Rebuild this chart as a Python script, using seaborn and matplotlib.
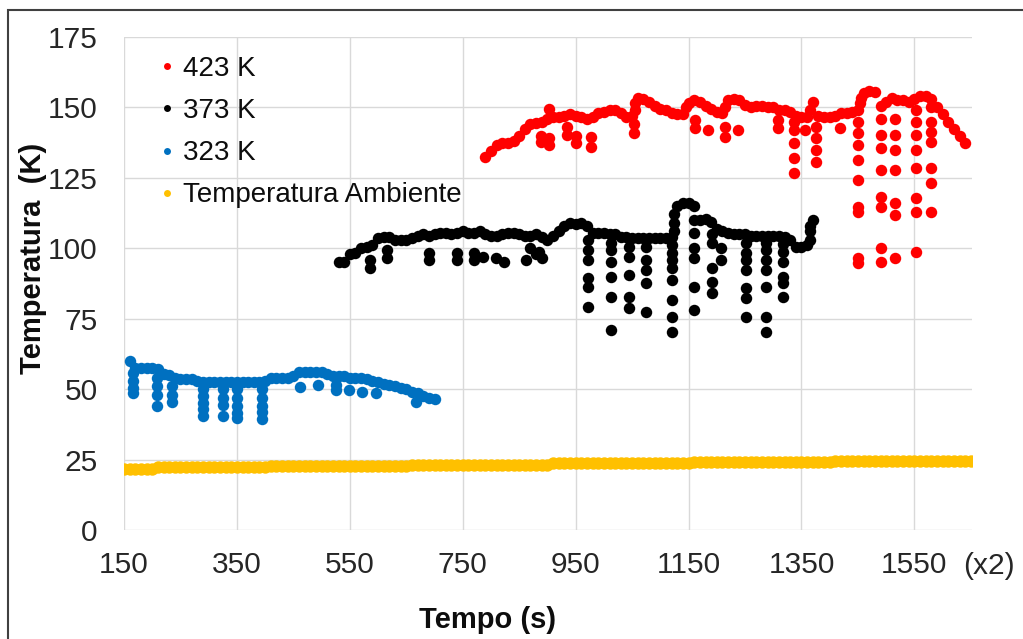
import numpy as np
import pandas as pd
import matplotlib
matplotlib.use("Agg")
import matplotlib.pyplot as plt
from matplotlib.lines import Line2D
from matplotlib.patches import Rectangle
import seaborn as sns

# ---------------- data ----------------
series_names = ["423 K", "373 K", "323 K", "Temperatura Ambiente"]
series_colors = ["#FF0000", "#000000", "#0070C0", "#FFC000"]
sample_step = 10

# 423 K: regular readings starting at t = 790
red_start = 790
red_values = [
    132.5, 134.5, 136.5, 137.5, 137.5, 138, 140, 142.5, 144, 144.5,
    145, 146, 146.5, 146.5, 147, 147.5, 147, 146.5, 146, 146.5,
    148, 148.5, 149, 149, 148, 146.5, 147, 153.5, 153, 152,
    150.5, 149.5, 149, 148, 147.5, 147.5, 151.5, 152.5, 152, 150.5,
    149.5, 148.5, 148, 152.5, 153, 152.5, 151, 150, 150.5, 150.5,
    150, 150, 149, 149, 148.5, 147, 146.5, 146.5, 152, 147,
    146.5, 146.5, 147, 148, 148, 148.5, 149, 155, 156, 155.5,
    150.5, 152, 153.5, 152.5, 152.5, 152, 153, 154, 154, 153,
    150, 147.5, 145, 142.5, 140, 137.5,
]
red_drops = [
    (903, 149.5), (889, 140), (889, 137.7), (903, 139), (903, 136.7),
    (934, 143), (934, 140.2), (950, 140), (950, 137.4), (977, 139.5),
    (977, 136), (1053, 144), (1053, 141), (1055, 149), (1055, 151.5),
    (1145, 150), (1162, 145.5), (1162, 142.7), (1185, 142), (1215, 150),
    (1215, 143), (1215, 139.5), (1238, 142), (1309, 145.5), (1309, 142.7),
    (1336, 145), (1336, 142), (1336, 137.4), (1336, 132), (1336, 126.7),
    (1357, 142), (1365, 149), (1376, 143), (1376, 139), (1376, 134.9),
    (1376, 130.6), (1419, 142.7),
    (1450, 145), (1450, 141), (1450, 136.7), (1450, 131.3), (1450, 124.2),
    (1450, 114.7), (1450, 112.9), (1450, 96.6), (1450, 94.8),
    (1453, 151.5), (1456, 153.5),
    (1491, 146), (1491, 140.2), (1491, 135.6), (1491, 127.8), (1491, 118.2),
    (1491, 114.7), (1491, 100.1), (1491, 95.1),
    (1516, 146), (1516, 140.2), (1516, 134.9), (1516, 127.8), (1516, 116.1),
    (1516, 111.8), (1516, 96.6),
    (1553, 149), (1553, 145), (1553, 140.2), (1553, 134.9), (1553, 128.5),
    (1553, 117.9), (1553, 113), (1553, 98.7),
    (1579, 150), (1579, 145), (1579, 141.3), (1579, 137.7), (1579, 128.5),
    (1579, 123.2), (1579, 112.9),
]

# 373 K
black_start = 530
black_values = [
    95, 95, 98, 98.5, 100, 100.5, 101, 103.5, 104, 104,
    103, 103, 103, 103.5, 104.5, 105, 104.5, 105, 105.5, 105.5,
    105, 105.5, 106, 105.5, 105.5, 106, 105, 104.5, 104.5, 105,
    105.5, 105.5, 105, 104.5, 104.5, 105, 104, 103, 104.5, 106,
    108, 109, 108.5, 109, 108, 105.5, 105.5, 105.5, 105, 105,
    104, 104, 103.5, 103.5, 103.5, 103.5, 103.5, 103.5, 103.5, 104,
    115, 116, 116, 115, 110, 110.5, 109.5, 107, 106, 105.5,
    105, 105, 105, 104.5, 104.5, 104.5, 104.5, 104.5, 104.5, 104,
    103, 100.5, 100.5, 101, 110,
]
black_drops = [
    (585, 95.8), (585, 93), (615, 99.4), (615, 96.6), (691, 98.3),
    (691, 95.8), (740, 98.3), (740, 95.8), (770, 98.3), (770, 95.8),
    (785, 97), (809, 96.6), (823, 95.1), (862, 95.8), (870, 100),
    (880, 98), (885, 98.7), (890, 96.5),
    (972, 103), (972, 99.4), (972, 95.8), (972, 89.5), (972, 86.3), (972, 79.2),
    (1012, 102), (1012, 99.4), (1012, 95.1), (1012, 89.8), (1012, 82.7), (1012, 71),
    (1044, 100.5), (1044, 97), (1044, 90.5), (1044, 82.7), (1044, 78.8),
    (1074, 100.5), (1074, 96), (1074, 92.3), (1074, 87.7), (1074, 77.4),
    (1120, 101), (1120, 98.3), (1120, 95.8), (1120, 93), (1120, 88.7),
    (1120, 81.6), (1120, 75.6), (1120, 70.3),
    (1125, 106), (1125, 109), (1125, 112),
    (1159, 110), (1159, 105.4), (1159, 100), (1159, 96.6), (1159, 86.3), (1159, 78.1),
    (1191, 105), (1191, 101.9), (1191, 93), (1191, 88), (1191, 84.1),
    (1207, 100), (1207, 95.8),
    (1251, 101.9), (1251, 98.5), (1251, 95.8), (1251, 92.3), (1251, 85.9),
    (1251, 82.4), (1251, 75.6),
    (1288, 102), (1288, 99.4), (1288, 95.8), (1288, 92.3), (1288, 86.3),
    (1288, 75.6), (1288, 70.3),
    (1318, 101.5), (1318, 98.7), (1318, 95.1), (1318, 89.8), (1318, 87.7), (1318, 82.7),
    (1365, 103), (1365, 106), (1365, 108),
]

# 323 K
blue_start = 160
blue_values = [
    60, 57.5, 57.5, 57.5, 57.5, 57, 55.5, 55, 54, 53.5,
    53.5, 53.5, 53, 52.5, 52.5, 52.5, 52.5, 52.5, 52.5, 52.5,
    52.5, 52.5, 52.5, 52.5, 53, 54, 54, 54, 54, 54.5,
    56, 56, 56, 56, 56, 55.5, 54.5, 54.5, 54.5, 54,
    54, 54, 53.5, 53, 52.5, 52, 51.5, 51, 50.5, 50,
    49, 48.5, 47.5, 47, 46.5,
]
blue_drops = [
    (166, 55.7), (166, 53), (166, 50.5), (166, 48.6),
    (208, 54), (208, 51), (208, 48), (208, 44),
    (235, 51), (235, 48), (235, 45.5),
    (290, 50), (290, 47.5), (290, 45), (290, 43), (290, 40.5),
    (325, 50), (325, 47), (325, 44.5), (325, 40.5),
    (350, 50), (350, 47), (350, 44), (350, 41.5), (350, 39.8),
    (394, 50), (394, 47), (394, 44), (394, 42), (394, 39.4),
    (461, 50.8), (493, 51.5), (526, 51.5), (526, 49.7), (549, 49.7),
    (572, 49), (597, 48.6), (668, 45.5),
]

# Temperatura Ambiente
amb_start = 150
amb_values = [
    21.8, 21.8, 21.8, 21.8, 21.8, 21.8, 22.3, 22.3, 22.3, 22.3,
    22.3, 22.3, 22.3, 22.3, 22.3, 22.3, 22.3, 22.3, 22.3, 22.3,
    22.3, 22.3, 22.3, 22.3, 22.3, 22.3, 22.8, 22.8, 22.8, 22.8,
    22.8, 22.8, 22.8, 22.8, 22.8, 22.8, 22.8, 22.8, 22.8, 22.8,
    22.8, 22.8, 22.8, 22.8, 22.8, 22.8, 22.8, 22.8, 22.8, 22.8,
    22.8, 23.2, 23.2, 23.2, 23.2, 23.2, 23.2, 23.2, 23.2, 23.2,
    23.2, 23.2, 23.2, 23.2, 23.2, 23.2, 23.2, 23.2, 23.2, 23.2,
    23.2, 23.2, 23.2, 23.2, 23.2, 23.2, 23.7, 23.7, 23.7, 23.7,
    23.7, 23.7, 23.7, 23.7, 23.7, 23.7, 23.7, 23.7, 23.7, 23.7,
    23.7, 23.7, 23.7, 23.7, 23.7, 23.7, 23.7, 23.7, 23.7, 23.7,
    23.7, 24.1, 24.1, 24.1, 24.1, 24.1, 24.1, 24.1, 24.1, 24.1,
    24.1, 24.1, 24.1, 24.1, 24.1, 24.1, 24.1, 24.1, 24.1, 24.1,
    24.1, 24.1, 24.1, 24.1, 24.1, 24.1, 24.5, 24.5, 24.5, 24.5,
    24.5, 24.5, 24.5, 24.5, 24.5, 24.5, 24.5, 24.5, 24.5, 24.5,
    24.5, 24.5, 24.5, 24.5, 24.5, 24.5, 24.5, 24.5, 24.5, 24.5,
    24.5,
]

x_ticks = [150, 350, 550, 750, 950, 1150, 1350, 1550]
y_ticks = [0, 25, 50, 75, 100, 125, 150, 175]


def build_frame(name, start, values, drops):
    t = start + sample_step * np.arange(len(values))
    rows = pd.DataFrame({"t": t, "temp": values})
    if drops:
        extra = pd.DataFrame(drops, columns=["t", "temp"])
        rows = pd.concat([rows, extra], ignore_index=True)
    rows["serie"] = name
    return rows


df = pd.concat([
    build_frame(series_names[0], red_start, red_values, red_drops),
    build_frame(series_names[1], black_start, black_values, black_drops),
    build_frame(series_names[2], blue_start, blue_values, blue_drops),
    build_frame(series_names[3], amb_start, amb_values, []),
], ignore_index=True)

# ---------------- figure ----------------
sns.set_style("white")
plt.rcParams["font.family"] = ["Liberation Sans", "DejaVu Sans"]

W, H = 1023, 639
fig = plt.figure(figsize=(W / 100, H / 100), dpi=100)
ax = fig.add_axes([124 / W, 1 - 530 / H, (972 - 124) / W, (530 - 37) / H])

palette = dict(zip(series_names, series_colors))
sizes = {series_names[0]: 68, series_names[1]: 68, series_names[2]: 68, series_names[3]: 80}
for name in [series_names[3], series_names[2], series_names[1], series_names[0]]:
    sns.scatterplot(data=df[df["serie"] == name], x="t", y="temp", color=palette[name],
                    s=sizes[name], linewidth=0, legend=False, ax=ax, zorder=3)

ax.set_xlim(150, 1652)
ax.set_ylim(0, 175)
ax.set_xticks(x_ticks)
ax.set_yticks(y_ticks)
ax.set_xticklabels([str(v) for v in x_ticks], fontsize=21.5, color="#262626")
ax.set_yticklabels([str(v) for v in y_ticks], fontsize=21.5, color="#262626")
ax.tick_params(axis="both", length=0)
ax.tick_params(axis="y", pad=19)
ax.tick_params(axis="x", pad=15)
ax.grid(True, color="#d9d9d9", linewidth=1.0)
ax.set_axisbelow(True)
for sp in ax.spines.values():
    sp.set_visible(False)
ax.set_xlabel("")
ax.set_ylabel("")

fig.text(33 / W, 1 - 258 / H, "Temperatura  (K)", rotation=90, fontsize=21,
         fontweight="bold", ha="center", va="center", color="#0d0d0d")
fig.text(488 / W, 1 - 620 / H, "Tempo (s)", fontsize=21, fontweight="bold",
         ha="center", va="center", color="#0d0d0d")
fig.text(989 / W, 1 - 566 / H, "(x2)", fontsize=21.5, ha="center", va="center",
         color="#262626")

handles = [Line2D([], [], linestyle="none", marker="o", markersize=5,
                  markerfacecolor=c, markeredgewidth=0) for c in series_colors]
leg = ax.legend(handles, series_names, loc="upper left",
                bbox_to_anchor=(158.7 / W, 1 - 56 / H), bbox_transform=fig.transFigure,
                frameon=False, fontsize=20, handlelength=0.6, handletextpad=0.275,
                labelspacing=0.58, borderpad=0, borderaxespad=0)
for txt in leg.get_texts():
    txt.set_color("#0d0d0d")

# outer chart frame
fig.patches.append(Rectangle((7.5 / W, -0.2), 1.2, 1.2 - 9.5 / H, transform=fig.transFigure,
                             fill=False, edgecolor="#404040", linewidth=1.5))

fig.savefig("out.png", dpi=100, facecolor="white")
